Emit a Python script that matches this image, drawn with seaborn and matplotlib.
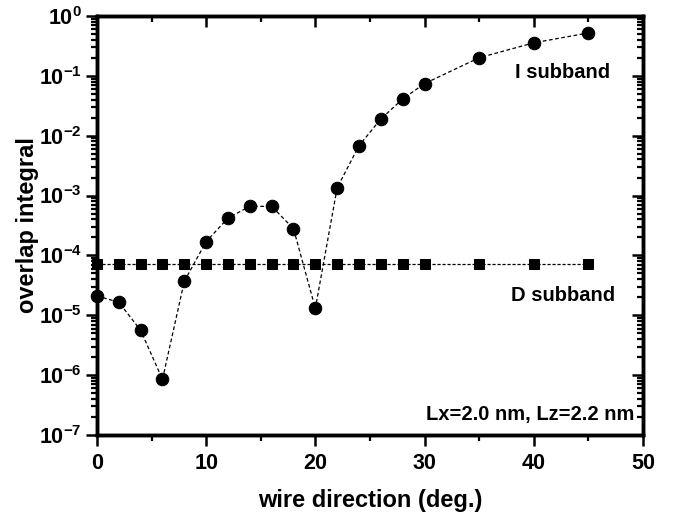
import numpy as np
import pandas as pd
import matplotlib
matplotlib.use("Agg")
import matplotlib.pyplot as plt
import seaborn as sns
from matplotlib.ticker import LogLocator, MultipleLocator, NullFormatter

# ── DATA ──────────────────────────────────────────────────────
angle_i = [0, 2, 4, 6, 8, 10, 12, 14, 16, 18, 20, 22, 24, 26, 28, 30, 35, 40, 45]
overlap_i = [2.1e-5, 1.65e-5, 5.6e-6, 8.5e-7, 3.7e-5, 1.7e-4, 4.2e-4, 6.6e-4,
             6.6e-4, 2.8e-4, 1.3e-5, 1.35e-3, 6.8e-3, 1.9e-2, 4.1e-2, 7.4e-2,
             0.20, 0.355, 0.52]

angle_d = [0, 2, 4, 6, 8, 10, 12, 14, 16, 18, 20, 22, 24, 26, 28, 30, 35, 40, 45]
overlap_d = [7.1e-5] * len(angle_d)

df_i = pd.DataFrame({"angle": angle_i, "overlap": overlap_i})
df_d = pd.DataFrame({"angle": angle_d, "overlap": overlap_d})

# ── STYLE ─────────────────────────────────────────────────────
sns.set_style("ticks")
plt.rcParams["font.family"] = ["Liberation Sans", "DejaVu Sans"]
plt.rcParams["font.weight"] = "bold"
plt.rcParams["text.color"] = "black"
plt.rcParams["axes.labelcolor"] = "black"
plt.rcParams["xtick.color"] = "black"
plt.rcParams["ytick.color"] = "black"
plt.rcParams["axes.edgecolor"] = "black"
plt.rcParams["mathtext.fontset"] = "custom"
plt.rcParams["mathtext.rm"] = "Liberation Sans:bold"
plt.rcParams["mathtext.bf"] = "Liberation Sans:bold"
plt.rcParams["mathtext.default"] = "bf"

fig = plt.figure(figsize=(6.81, 5.14), dpi=100)
ax = fig.add_axes([0.1424, 0.1537, 0.8016, 0.8153])

# ── PLOT ──────────────────────────────────────────────────────
sns.lineplot(data=df_d, x="angle", y="overlap", ax=ax, color="black",
             marker="s", markersize=7.5, markeredgecolor="black",
             linewidth=0.9, linestyle=(0, (2.5, 1.5)), clip_on=False, zorder=3)
sns.lineplot(data=df_i, x="angle", y="overlap", ax=ax, color="black",
             marker="o", markersize=9, markeredgecolor="black",
             linewidth=0.9, linestyle=(0, (3, 2)), clip_on=False, zorder=4)

def setup_axis(a):
    a.set_yscale("log")
    a.set_xlim(0, 50)
    a.set_ylim(1e-7, 1)
    a.xaxis.set_major_locator(MultipleLocator(10))
    a.xaxis.set_minor_locator(MultipleLocator(5))
    a.yaxis.set_major_locator(LogLocator(base=10, numticks=20))
    a.yaxis.set_minor_locator(LogLocator(base=10, subs=np.arange(2, 10), numticks=20))
    a.yaxis.set_minor_formatter(NullFormatter())
    for s in a.spines.values():
        s.set_linewidth(2.4)
        s.set_visible(True)

setup_axis(ax)
# bottom/left ticks point outward
ax.tick_params(which="both", direction="out", width=1.8)
ax.tick_params(which="major", length=8, labelsize=15.5)
ax.tick_params(axis="x", which="major", pad=5)
ax.tick_params(axis="y", which="major", pad=3)
ax.tick_params(which="minor", length=4.5, width=1.6)

# top/right ticks point inward
ax_top = ax.twiny()
ax_right = ax.twinx()
for a in (ax_top, ax_right):
    setup_axis(a)
ax_top.tick_params(axis="x", which="both", direction="in", top=True,
                   bottom=False, labeltop=False, width=1.8)
ax_top.tick_params(axis="x", which="major", length=8)
ax_top.tick_params(axis="x", which="minor", length=4.5, width=1.6)
ax_top.tick_params(axis="y", which="both", left=False, right=False,
                   labelleft=False, labelright=False)
ax_right.tick_params(axis="y", which="both", direction="in", right=True,
                     left=False, labelright=False, width=1.8)
ax_right.tick_params(axis="y", which="major", length=8)
ax_right.tick_params(axis="y", which="minor", length=4.5, width=1.6)
ax_right.tick_params(axis="x", which="both", top=False, bottom=False,
                     labeltop=False, labelbottom=False)

ax.set_xlabel("wire direction (deg.)", fontsize=17, fontweight="bold", labelpad=11)
ax.set_ylabel("overlap integral", fontsize=17, fontweight="bold", labelpad=0)

ax.text(0.852, 0.866, "I subband", transform=ax.transAxes, ha="center",
        va="center", fontsize=14.5, fontweight="bold")
ax.text(0.853, 0.334, "D subband", transform=ax.transAxes, ha="center",
        va="center", fontsize=14.5, fontweight="bold")
ax.text(0.985, 0.048, "Lx=2.0 nm, Lz=2.2 nm", transform=ax.transAxes,
        ha="right", va="center", fontsize=14.5, fontweight="bold")

plt.savefig("out.png", dpi=100)
